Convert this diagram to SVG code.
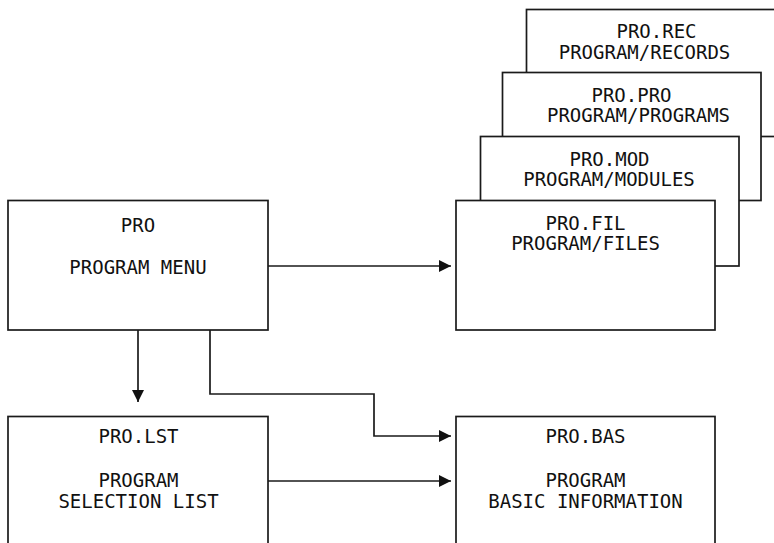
<svg xmlns="http://www.w3.org/2000/svg" width="774" height="543" viewBox="0 0 774 543">
<style>
.box{fill:#ffffff;stroke:#1a1a1a;stroke-width:1.7}
.t{font-family:"DejaVu Sans Mono","Liberation Mono",monospace;font-size:19px;fill:#111111;text-anchor:middle}
.c{fill:none;stroke:#1a1a1a;stroke-width:1.7}
</style>
<defs>
<marker id="ah" viewBox="0 0 12 12" refX="12" refY="6" markerWidth="12" markerHeight="12" markerUnits="userSpaceOnUse" orient="auto">
<path d="M0,0 L12,6 L0,12 z" fill="#111111"/>
</marker>
</defs>
<rect width="774" height="543" fill="#ffffff"/>
<g id="pro-rec">
<rect class="box" x="526.5" y="9.5" width="259" height="127"/>
<text class="t" x="656.5" y="38.3">PRO.REC</text>
<text class="t" x="644.5" y="58.5">PROGRAM/RECORDS</text>
</g>
<g id="pro-pro">
<rect class="box" x="502.5" y="72.5" width="258.5" height="128"/>
<text class="t" x="631.5" y="101.5">PRO.PRO</text>
<text class="t" x="638.5" y="122">PROGRAM/PROGRAMS</text>
</g>
<g id="pro-mod">
<rect class="box" x="480.5" y="136.5" width="258.5" height="129.5"/>
<text class="t" x="609.5" y="165.5">PRO.MOD</text>
<text class="t" x="609" y="185.5">PROGRAM/MODULES</text>
</g>
<g id="pro-fil">
<rect class="box" x="456" y="200.5" width="259" height="129.5"/>
<text class="t" x="585.5" y="230">PRO.FIL</text>
<text class="t" x="585.5" y="250">PROGRAM/FILES</text>
</g>
<g id="pro">
<rect class="box" x="8" y="200.5" width="260" height="129.5"/>
<text class="t" x="138" y="231.5">PRO</text>
<text class="t" x="138" y="274">PROGRAM MENU</text>
</g>
<g id="pro-lst">
<rect class="box" x="8" y="416.5" width="260" height="135"/>
<text class="t" x="138.5" y="443.3">PRO.LST</text>
<text class="t" x="138.5" y="487.3">PROGRAM</text>
<text class="t" x="138.5" y="507.7">SELECTION LIST</text>
</g>
<g id="pro-bas">
<rect class="box" x="456" y="416.5" width="259" height="135"/>
<text class="t" x="585.5" y="443.3">PRO.BAS</text>
<text class="t" x="585.5" y="487.3">PROGRAM</text>
<text class="t" x="585.5" y="507.7">BASIC INFORMATION</text>
</g>
<g id="connectors">
<path class="c" d="M268,266 L451,266" marker-end="url(#ah)"/>
<path class="c" d="M138,330 L138,402" marker-end="url(#ah)"/>
<path class="c" d="M210,330 L210,394 L374,394 L374,436 L451,436" marker-end="url(#ah)"/>
<path class="c" d="M268,481 L451,481" marker-end="url(#ah)"/>
</g>
</svg>
